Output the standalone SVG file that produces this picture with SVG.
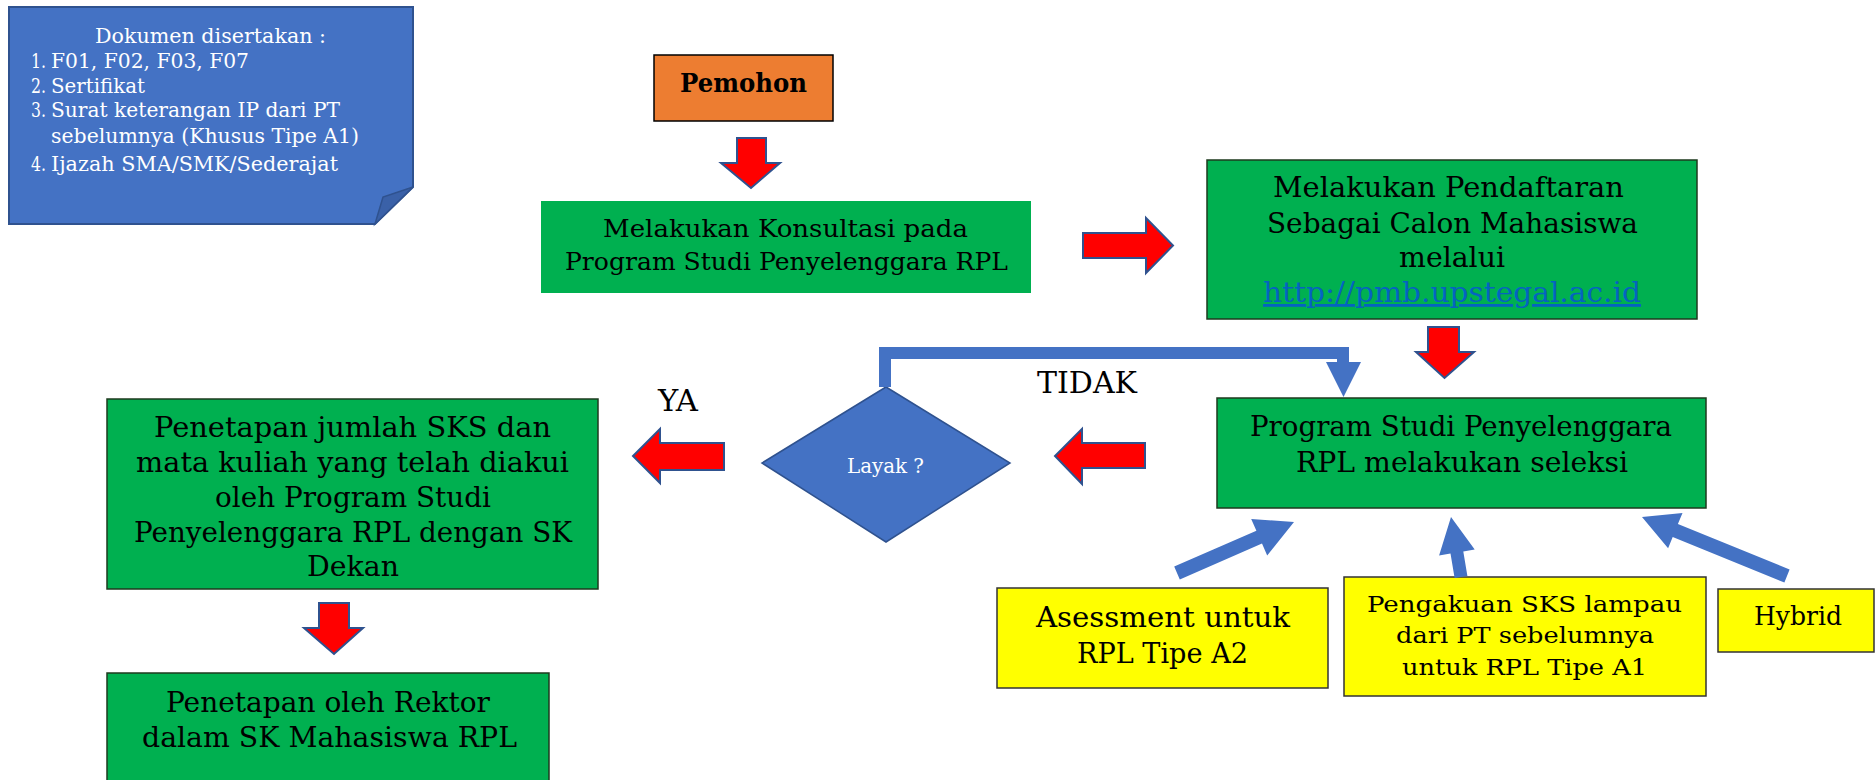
<svg xmlns="http://www.w3.org/2000/svg" width="1876" height="780" viewBox="0 0 1876 780">
<style>
.t{font-family:"DejaVu Serif","Liberation Serif",serif;fill:#000}
.w{fill:#fff}
.green{fill:#00B050;stroke:#1e3a1e;stroke-width:1.5}
.yellow{fill:#FFFF00;stroke:#333;stroke-width:1.5}
.red{fill:#FF0000;stroke:#2F528F;stroke-width:2;stroke-linejoin:miter}
.blue{fill:#4472C4}
</style>
<rect width="1876" height="780" fill="#fff"/>

<g id="note">
<path d="M9,7 L413,7 L413,187 L375,224 L9,224 Z" fill="#4472C4" stroke="#2F528F" stroke-width="2"/>
<path d="M375,224 L383,197 L413,187 Z" fill="#3A61A8" stroke="#2F528F" stroke-width="1.5"/>
<g class="t w" font-size="21">
<text x="95" y="43" textLength="231" lengthAdjust="spacingAndGlyphs" class="w">Dokumen disertakan :</text>
<text x="31" y="68" class="w" textLength="15" lengthAdjust="spacingAndGlyphs">1.</text>
<text x="51" y="68" textLength="198" lengthAdjust="spacingAndGlyphs" class="w">F01, F02, F03, F07</text>
<text x="31" y="93" class="w" textLength="15" lengthAdjust="spacingAndGlyphs">2.</text>
<text x="51" y="93" textLength="94" lengthAdjust="spacingAndGlyphs" class="w">Sertifikat</text>
<text x="31" y="117" class="w" textLength="15" lengthAdjust="spacingAndGlyphs">3.</text>
<text x="51" y="117" textLength="289" lengthAdjust="spacingAndGlyphs" class="w">Surat keterangan IP dari PT</text>
<text x="51" y="143" textLength="308" lengthAdjust="spacingAndGlyphs" class="w">sebelumnya (Khusus Tipe A1)</text>
<text x="31" y="171" class="w" textLength="15" lengthAdjust="spacingAndGlyphs">4.</text>
<text x="51" y="171" textLength="287" lengthAdjust="spacingAndGlyphs" class="w">Ijazah SMA/SMK/Sederajat</text>
</g>
</g>

<g id="pemohon">
<rect x="654" y="55" width="179" height="66" fill="#ED7D31" stroke="#000" stroke-width="1.5"/>
<text class="t" x="680" y="92" font-size="26" font-weight="bold" textLength="127" lengthAdjust="spacingAndGlyphs">Pemohon</text>
</g>

<g id="konsultasi">
<rect x="541" y="201" width="490" height="92" fill="#00B050"/>
<text class="t" font-size="25" x="603" y="237" textLength="365" lengthAdjust="spacingAndGlyphs">Melakukan Konsultasi pada</text>
<text class="t" font-size="25" x="565" y="270" textLength="443" lengthAdjust="spacingAndGlyphs">Program Studi Penyelenggara RPL</text>
</g>

<g id="pendaftaran">
<rect x="1207" y="160" width="490" height="159" class="green" stroke="#000"/>
<text class="t" font-size="28" x="1273" y="197" textLength="351" lengthAdjust="spacingAndGlyphs">Melakukan Pendaftaran</text>
<text class="t" font-size="28" x="1267" y="233" textLength="371" lengthAdjust="spacingAndGlyphs">Sebagai Calon Mahasiswa</text>
<text class="t" font-size="28" x="1399" y="267" textLength="106" lengthAdjust="spacingAndGlyphs">melalui</text>
<text class="t" font-size="28" x="1263" y="302" textLength="378" lengthAdjust="spacingAndGlyphs" style="fill:#0563C1" text-decoration="underline">http://pmb.upstegal.ac.id</text>
</g>

<g id="seleksi">
<rect x="1217" y="398" width="489" height="110" class="green"/>
<text class="t" font-size="28" x="1250" y="436" textLength="422" lengthAdjust="spacingAndGlyphs">Program Studi Penyelenggara</text>
<text class="t" font-size="28" x="1296" y="472" textLength="332" lengthAdjust="spacingAndGlyphs">RPL melakukan seleksi</text>
</g>

<g id="layak">
<polygon points="886,387 1010,463 886,542 762,463" fill="#4472C4" stroke="#2F528F" stroke-width="1.5"/>
<text class="t w" font-size="20" x="847" y="473" textLength="77" lengthAdjust="spacingAndGlyphs">Layak ?</text>
</g>

<g id="sks">
<rect x="107" y="399" width="491" height="190" class="green"/>
<text class="t" font-size="27" x="154" y="437" textLength="397" lengthAdjust="spacingAndGlyphs">Penetapan jumlah SKS dan</text>
<text class="t" font-size="27" x="136" y="472" textLength="433" lengthAdjust="spacingAndGlyphs">mata kuliah yang telah diakui</text>
<text class="t" font-size="27" x="215" y="507" textLength="276" lengthAdjust="spacingAndGlyphs">oleh Program Studi</text>
<text class="t" font-size="27" x="134" y="542" textLength="438" lengthAdjust="spacingAndGlyphs">Penyelenggara RPL dengan SK</text>
<text class="t" font-size="27" x="307" y="576" textLength="92" lengthAdjust="spacingAndGlyphs">Dekan</text>
</g>

<g id="rektor">
<rect x="107" y="673" width="442" height="120" class="green"/>
<text class="t" font-size="28" x="166" y="712" textLength="324" lengthAdjust="spacingAndGlyphs">Penetapan oleh Rektor</text>
<text class="t" font-size="28" x="142" y="747" textLength="375" lengthAdjust="spacingAndGlyphs">dalam SK Mahasiswa RPL</text>
</g>

<g id="asessment">
<rect x="997" y="588" width="331" height="100" class="yellow"/>
<text class="t" font-size="27" x="1036" y="627" textLength="254" lengthAdjust="spacingAndGlyphs">Asessment untuk</text>
<text class="t" font-size="27" x="1077" y="663" textLength="171" lengthAdjust="spacingAndGlyphs">RPL Tipe A2</text>
</g>

<g id="pengakuan">
<rect x="1344" y="577" width="362" height="119" class="yellow"/>
<text class="t" font-size="23" x="1367" y="612" textLength="315" lengthAdjust="spacingAndGlyphs">Pengakuan SKS lampau</text>
<text class="t" font-size="23" x="1396" y="643" textLength="258" lengthAdjust="spacingAndGlyphs">dari PT sebelumnya</text>
<text class="t" font-size="23" x="1402" y="675" textLength="245" lengthAdjust="spacingAndGlyphs">untuk RPL Tipe A1</text>
</g>

<g id="hybrid">
<rect x="1718" y="589" width="156" height="63" class="yellow"/>
<text class="t" font-size="26" x="1754" y="625" textLength="88" lengthAdjust="spacingAndGlyphs">Hybrid</text>
</g>

<g id="labels">
<text class="t" font-size="30" x="1037" y="393" textLength="100" lengthAdjust="spacingAndGlyphs">TIDAK</text>
<text class="t" font-size="30" x="658" y="411" textLength="40" lengthAdjust="spacingAndGlyphs">YA</text>
</g>

<g id="connectors">
<polygon class="red" points="737,138 766,138 766,163 780,163 751,188 721,163 737,163"/>
<polygon class="red" points="1083,233 1146,233 1146,218 1173,245.5 1146,273 1146,258 1083,258"/>
<polygon class="red" points="1428,327 1459,327 1459,352 1474,352 1444.5,378 1416,352 1428,352"/>
<polygon class="red" points="1145,443 1082,443 1082,429 1055,456 1082,484 1082,468 1145,468"/>
<polygon class="red" points="724,443 660,443 660,429 633,456 660,483 660,470 724,470"/>
<polygon class="red" points="319,603 349,603 349,628 363,628 334,654 304,628 319,628"/>
<path d="M885,387 L885,353 L1343,353 L1343,364" fill="none" stroke="#4472C4" stroke-width="12"/>
<polygon class="blue" points="1326,362 1361,362 1343.5,397"/>
<polygon class="blue" points="1174.2,566.6 1256.4,530.8 1251.2,518.9 1294,522 1267.2,555.5 1262,543.6 1179.8,579.4"/>
<polygon class="blue" points="1454.6,578.1 1450.5,553.6 1439.1,555.5 1451,517 1474.7,549.5 1463.3,551.4 1467.4,575.9"/>
<polygon class="blue" points="1784.4,582.5 1672.7,537.1 1668.1,548.2 1642,517 1682.5,513 1677.9,524.1 1789.6,569.5"/>
</g>
</svg>
